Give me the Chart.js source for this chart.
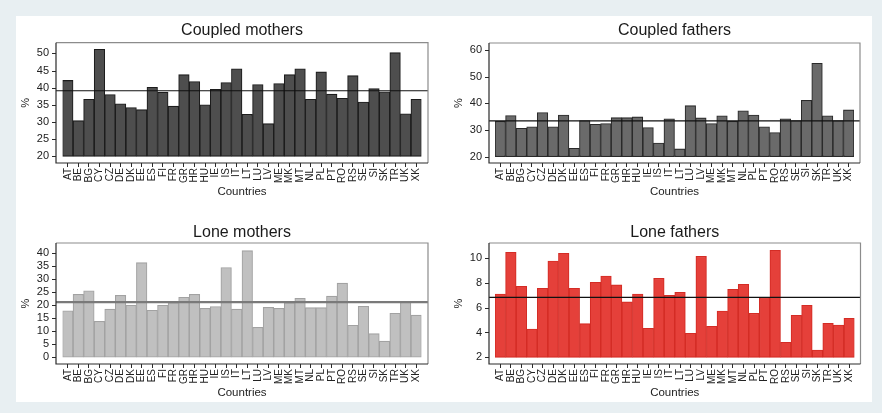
<!DOCTYPE html>
<html><head><meta charset="utf-8">
<script src="https://cdn.jsdelivr.net/npm/chart.js@4.4.1/dist/chart.umd.min.js"></script>
<style>
html,body{margin:0;padding:0;background:#e8eff2;width:882px;height:413px;overflow:hidden}
#panel{position:absolute;left:16px;top:16px;width:856px;height:386px;background:#fff}
.c{position:absolute;left:0;top:0;width:882px;height:413px}
</style></head><body>
<div id="panel"></div>
<div class="c"><canvas id="cm"></canvas></div>
<div class="c"><canvas id="cf"></canvas></div>
<div class="c"><canvas id="lm"></canvas></div>
<div class="c"><canvas id="lf"></canvas></div>
<script>
const countries = ['AT','BE','BG','CY','CZ','DE','DK','EE','ES','FI','FR','GR','HR','HU','IE','IS','IT','LT','LU','LV','ME','MK','MT','NL','PL','PT','RO','RS','SE','SI','SK','TR','UK','XK'];
const coupledMothers = [42.1,30.4,36.6,51.2,38.0,35.3,34.2,33.6,40.1,38.7,34.6,43.8,41.8,35.0,39.5,41.5,45.5,32.2,40.9,29.5,41.2,43.8,45.5,36.6,44.6,38.1,36.9,43.5,35.8,39.7,38.8,50.2,32.4,36.6];
const coupledFathers = [33.2,35.4,30.6,31.2,36.5,31.2,35.6,23.1,33.5,32.1,32.4,34.6,34.6,34.9,30.9,25.1,34.2,22.9,39.1,34.5,32.4,35.3,33.2,37.2,35.6,31.2,29.0,34.2,33.5,41.1,55.0,35.3,33.5,37.5];
const loneMothers = [17.9,24.2,25.6,13.8,18.5,23.8,20.0,36.4,18.1,20.0,21.0,23.1,24.2,18.8,19.5,34.5,18.5,41.0,11.5,19.2,18.8,21.0,22.7,19.1,19.1,23.5,28.5,12.3,19.6,9.1,6.2,16.9,21.2,16.2];
const loneFathers = [7.1,10.46,7.72,4.28,7.56,9.76,10.38,7.56,4.71,8.04,8.55,7.83,6.46,7.1,4.34,8.36,6.99,7.23,3.93,10.13,4.5,5.73,7.48,7.88,5.54,6.83,10.62,3.21,5.38,6.19,2.59,4.74,4.6,5.14];
const means = [39.1, 33.4, 21.2, 6.83];
const bases = [20, 20, 0, 2];
const titles = ['Coupled mothers','Coupled fathers','Lone mothers','Lone fathers'];
const ticksCM = [20,25,30,35,40,45,50];
const ticksCF = [20,30,40,50,60];
const ticksLM = [0,5,10,15,20,25,30,35,40];
const ticksLF = [2,4,6,8,10];

const FONT = '"Liberation Sans", Arial, Helvetica, sans-serif';
Chart.defaults.font.family = FONT;

const deco = {
  id: 'deco',
  afterDatasetsDraw(chart, args, o) {
    const ctx = chart.ctx, a = chart.chartArea, y = chart.scales.y;
    const fl = a.left - o.margin, fr = a.right + o.margin;
    ctx.save();
    const my = y.getPixelForValue(o.mean);
    ctx.strokeStyle = o.meanColor; ctx.lineWidth = o.meanWidth;
    ctx.beginPath(); ctx.moveTo(fl, my); ctx.lineTo(fr, my); ctx.stroke();
    ctx.lineWidth = 1.2;
    ctx.strokeStyle = '#8c8c8c';
    ctx.beginPath(); ctx.moveTo(fl, a.top); ctx.lineTo(fr, a.top); ctx.lineTo(fr, a.bottom); ctx.stroke();
    ctx.strokeStyle = '#2a2a2a';
    ctx.beginPath(); ctx.moveTo(fl, a.top); ctx.lineTo(fl, a.bottom); ctx.lineTo(fr, a.bottom); ctx.stroke();
    ctx.lineWidth = 1;
    y.ticks.forEach(t => {
      const py = Math.round(y.getPixelForValue(t.value)) + 0.5;
      ctx.beginPath(); ctx.moveTo(fl - 4, py); ctx.lineTo(fl, py); ctx.stroke();
    });
    ctx.fillStyle = '#1a1a1a';
    ctx.font = '16px ' + FONT;
    ctx.textAlign = 'center'; ctx.textBaseline = 'middle';
    ctx.fillText(o.title, (fl + fr) / 2, o.titleY);
    ctx.restore();
  }
};

function make(id, values, idx, ticks, ymin, ymax, area, margin, fill, border, meanColor, meanWidth, titleY) {
  const [left, top, right, bottom] = area;
  new Chart(document.getElementById(id), {
    type: 'bar',
    data: { labels: countries, datasets: [{
      data: values, base: bases[idx],
      backgroundColor: fill, borderColor: border, borderWidth: 1.1, borderSkipped: false,
      barPercentage: 1, categoryPercentage: 1
    }]},
    plugins: [deco],
    options: {
      responsive: true, maintainAspectRatio: false, animation: false,
      layout: { autoPadding: false, padding: { left: left - 45, right: 882 - right, top: top, bottom: 413 - bottom - 37 } },
      plugins: {
        legend: { display: false }, tooltip: { enabled: false }, title: { display: false },
        deco: { margin, mean: means[idx], meanColor, meanWidth, title: titles[idx], titleY }
      },
      scales: {
        x: {
          offset: true,
          grid: { display: true, drawOnChartArea: false, drawTicks: true, tickLength: 4, offset: false, color: '#2a2a2a', lineWidth: 1 },
          border: { display: false },
          ticks: { autoSkip: false, maxRotation: 90, minRotation: 90, padding: 1, color: '#222', font: { size: 10 } },
          title: { display: true, text: 'Countries', color: '#222', font: { size: 11.5 }, padding: { top: 0, bottom: 1 } },
          afterFit: s => { s.height = 37; }
        },
        y: {
          min: ymin, max: ymax,
          afterBuildTicks: s => { s.ticks = ticks.map(v => ({ value: v })); },
          afterFit: s => { s.width = 45; },
          grid: { display: false, drawTicks: false },
          border: { display: false },
          ticks: { autoSkip: false, padding: margin + 7, color: '#222', font: { size: 11 } },
          title: { display: true, text: '%', color: '#222', font: { size: 11 }, padding: { top: 2, bottom: 0 } }
        }
      }
    }
  });
}

make('cm', coupledMothers, 0, ticksCM, 18.05, 53.1, [62.5, 42.7, 421.5, 163], 6.5, '#4e4e4e', '#1c1c1c', '#111', 1.2, 31);
make('cf', coupledFathers, 1, ticksCF, 17.6, 62.6, [495, 43, 854, 163], 6, '#6a6a6a', '#2a2a2a', '#111', 1.2, 31);
make('lm', loneMothers, 2, ticksLM, -2.58, 43.96, [62.5, 243, 421.5, 364], 6.5, '#c0c0c0', '#a2a2a2', '#7a7a7a', 2.2, 233);
make('lf', loneFathers, 3, ticksLF, 1.46, 11.21, [495, 243, 854.5, 364], 6, '#e5403a', '#d42c25', '#111', 1.2, 233);
</script>
</body></html>
